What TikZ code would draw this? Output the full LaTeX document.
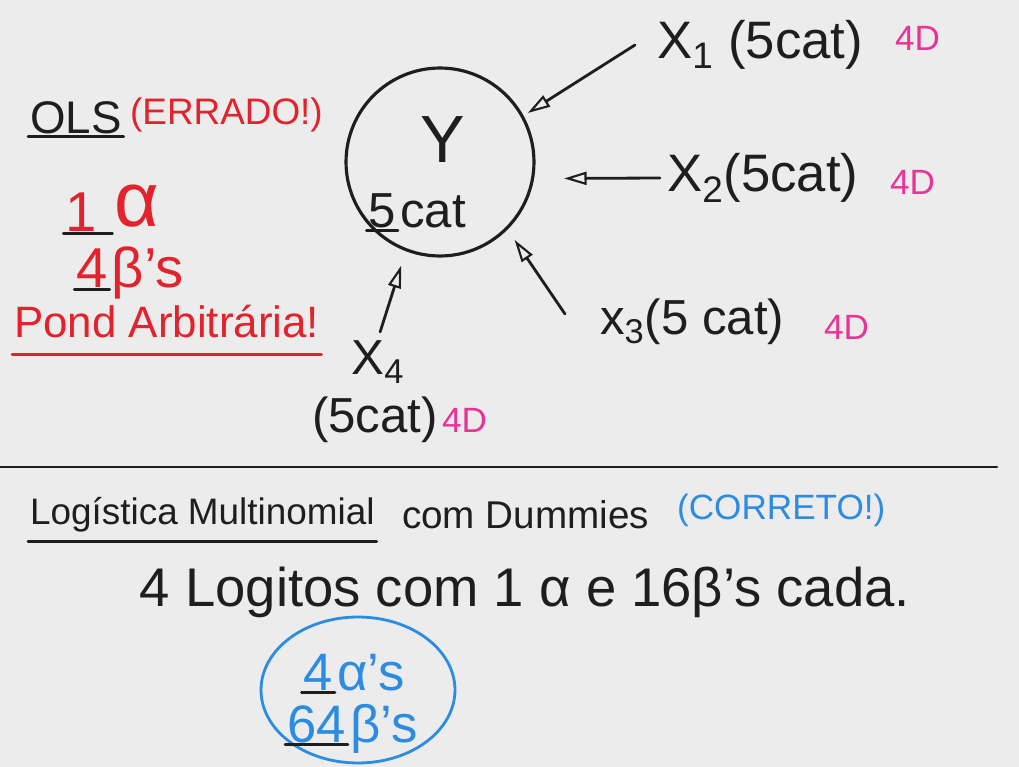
\documentclass[tikz,border=0pt]{standalone}
\usepackage{fontspec}
\setmainfont{Liberation Sans}
\usetikzlibrary{arrows.meta,shapes.geometric,positioning}

\definecolor{board}{RGB}{236,236,236}
\definecolor{ink}{RGB}{30,30,30}
\definecolor{redink}{RGB}{226,34,44}
\definecolor{pinkink}{RGB}{232,52,150}
\definecolor{blueink}{RGB}{44,140,226}
\newcommand{\handsize}[1]{\fontsize{#1}{#1}\selectfont}

\begin{document}
\begin{tikzpicture}[x=0.02cm, y=-0.02cm,
    txt/.style={text=ink, inner sep=1pt},
    wrong/.style={text=redink, inner sep=1pt},
    okay/.style={text=blueink, inner sep=1pt},
    dims/.style={text=pinkink, inner sep=1pt, font=\handsize{20}},
    stroke/.style={draw=ink, line width=1.6pt, line cap=round},
    arr/.style={stroke, -{Triangle[open, length=0.45cm, width=0.26cm, line width=1.2pt]}}
]
    % Board
    \fill[board] (0,0) rectangle (1019,767);
    \useasboundingbox (0,0) rectangle (1019,767);

    % OLS block, top left
    \node[txt, font=\handsize{26}, anchor=west] (ols) at (28,118) {OLS};
    \node[wrong, font=\handsize{21}, anchor=west] (errado) at (128,115) {(ERRADO!)};
    \draw[stroke] (ols.south west) -- (ols.south east);

    \node[wrong, font=\handsize{32}] (one) at (81,212) {1};
    \node[wrong, font=\handsize{44}] (alpha) at (137,206) {α};
    \draw[stroke] (one.south west) -- (alpha.west |- one.south);

    \node[wrong, font=\handsize{32}] (four) at (92,268) {4};
    \node[wrong, font=\handsize{32}, anchor=base west] (betas) at (four.base east) {β's};
    \draw[stroke] (four.south west) -- (four.south east);

    \node[wrong, font=\handsize{25}, anchor=west] (pond) at (12,322) {Pond Arbitrária!};
    \draw[stroke, draw=redink] ([yshift=-8pt]pond.south west) -- ([yshift=-8pt]pond.south east);

    % Y and its four predictors
    \node[circle, draw=ink, line width=1.8pt, minimum size=3.76cm] (ynode) at (440,162) {};
    \node[txt, font=\handsize{38}] (ylab) at (443,140) {Y};
    \node[txt, font=\handsize{28}, anchor=base east] (five) at (398,228) {5};
    \node[txt, font=\handsize{28}, anchor=base west] (cat) at (five.base east) {cat};
    \draw[stroke] (five.south west) -- (five.south east);

    \node[txt, font=\handsize{30}, anchor=west] (x1) at (655,45) {X\textsubscript{1} (5cat)};
    \node[dims, anchor=west] (d1) at (893,38) {4D};
    \node[txt, font=\handsize{30}, anchor=west] (x2) at (665,178) {X\textsubscript{2}(5cat)};
    \node[dims, anchor=west] (d2) at (888,182) {4D};
    \node[txt, font=\handsize{28}, anchor=west] (x3) at (598,322) {x\textsubscript{3}(5 cat)};
    \node[dims, anchor=west] (d3) at (822,327) {4D};
    \node[txt, font=\handsize{28}] (x4) at (378,362) {X\textsubscript{4}};
    \node[txt, font=\handsize{28}] (x4c) at (375,420) {(5cat)};
    \node[dims, anchor=base west] (d4) at (x4c.base east) {4D};

    \draw[arr, shorten >=0.1cm] ([shift={(-20,0)}]x1.west) -- (ynode.29);
    \draw[arr, shorten >=0.6cm] ([shift={(-5,0)}]x2.west) -- (ynode.-10);
    \draw[arr, shorten >=0.25cm] ([shift={(-33,-8)}]x3.west) -- (ynode.-45);
    \draw[arr, shorten >=0.3cm, shorten <=4pt] (x4.north) -- (ynode.249);

    % Divider
    \draw[stroke] (0,467) -- (997,467);

    % Multinomial logistic block
    \node[txt, font=\handsize{21}, anchor=west] (logit) at (28,515) {Logística Multinomial};
    \draw[stroke] ([yshift=-4pt]logit.south west) -- ([yshift=-4pt]logit.south east);
    \node[txt, font=\handsize{22}, anchor=west] (dummies) at (400,515) {com Dummies};
    \node[okay, font=\handsize{20}, anchor=west] (correto) at (675,510) {(CORRETO!)};

    \node[txt, font=\handsize{31}] (logitos) at (525,592) {4 Logitos com 1 α e 16β's cada.};

    \node[ellipse, draw=blueink, line width=1.6pt, minimum width=3.88cm, minimum height=2.92cm] (total) at (358,690) {};
    \node[okay, font=\handsize{30}, anchor=base east] (nalpha) at (335,690) {4};
    \node[okay, font=\handsize{30}, anchor=base west] (alphas) at (nalpha.base east) {α's};
    \node[okay, font=\handsize{30}, anchor=base east] (nbeta) at (348,742) {64};
    \node[okay, font=\handsize{30}, anchor=base west] (betas2) at (nbeta.base east) {β's};
    \draw[stroke] (nalpha.south west) -- (nalpha.south east);
    \draw[stroke] (nbeta.south west) -- (nbeta.south east);

\end{tikzpicture}
\end{document}
